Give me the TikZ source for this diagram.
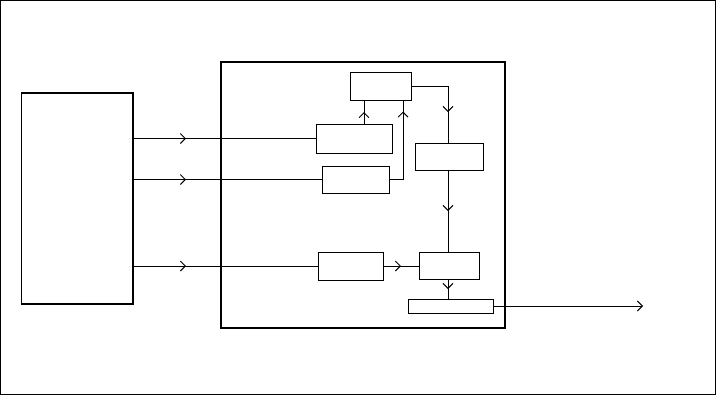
\documentclass[tikz,border=0pt]{standalone}
\usetikzlibrary{arrows.meta,decorations.markings}
\tikzset{
  box/.style={draw, line width=1bp, inner sep=0pt, outer sep=0pt},
  conn/.style={line width=0.9bp},
  tip/.tip={Straight Barb[length=5bp,width=10bp]},
  midarr/.style={postaction={decorate}, decoration={markings, mark=at position #1 with {\arrow{tip}}}}
}
\begin{document}
\begin{tikzpicture}[x=1bp,y=-1bp]
  \useasboundingbox (0,0) rectangle (716,411);
  % outer frame
  \node[draw, line width=1bp, inner sep=0pt, minimum width=714.5bp, minimum height=393.5bp] (frame) at (357.75,197.25) {};
  % left source box
  \node[box, line width=1.6bp, minimum width=111.5bp, minimum height=211bp] (L) at (77.25,198.5) {};
  % large system box
  \node[box, line width=1.5bp, minimum width=284bp, minimum height=266bp] (M) at (363,195) {};
  % inner blocks
  \node[box, minimum width=61bp, minimum height=28bp] (A) at (380.5,86) {};
  \node[box, minimum width=76bp, minimum height=29bp] (B) at (354,138.5) {};
  \node[box, minimum width=67bp, minimum height=27bp] (C) at (355.5,179.5) {};
  \node[box, minimum width=68bp, minimum height=27bp] (D) at (449,156.5) {};
  \node[box, minimum width=65bp, minimum height=28bp] (F) at (350.5,266) {};
  \node[box, minimum width=60bp, minimum height=27bp] (E) at (449,265.5) {};
  \node[box, minimum width=85bp, minimum height=14bp] (G) at (450.5,306) {};
  % helper coordinates
  \coordinate (xb) at (364,0);
  \coordinate (xc) at (403,0);
  \coordinate (xd) at (448,0);
  \coordinate (out) at (643,306);
  % inputs from left box
  \draw[conn, midarr=53bp] (L.east |- B.west) -- (B.west);
  \draw[conn, midarr=53bp] (L.east |- C.west) -- (C.west);
  \draw[conn, midarr=53bp] (L.east |- F.west) -- (F.west);
  % B -> A
  \draw[conn, midarr=0.5] (B.north -| xb) -- (A.south -| xb);
  % C -> A
  \draw[conn, midarr=82bp] (C.east) -| (A.south -| xc);
  % A -> D
  \draw[conn, midarr=63bp] (A.east) -| (D.north -| xd);
  % D -> E
  \draw[conn, midarr=0.5] (D.south -| xd) -- (E.north -| xd);
  % F -> E
  \draw[conn, midarr=0.5] (F.east) -- (E.west |- F.east);
  % E -> G
  \draw[conn, midarr=0.5] (E.south -| xd) -- (G.north -| xd);
  % G -> output
  \draw[conn, -{tip}] (G.east) -- (out);
\end{tikzpicture}
\end{document}
